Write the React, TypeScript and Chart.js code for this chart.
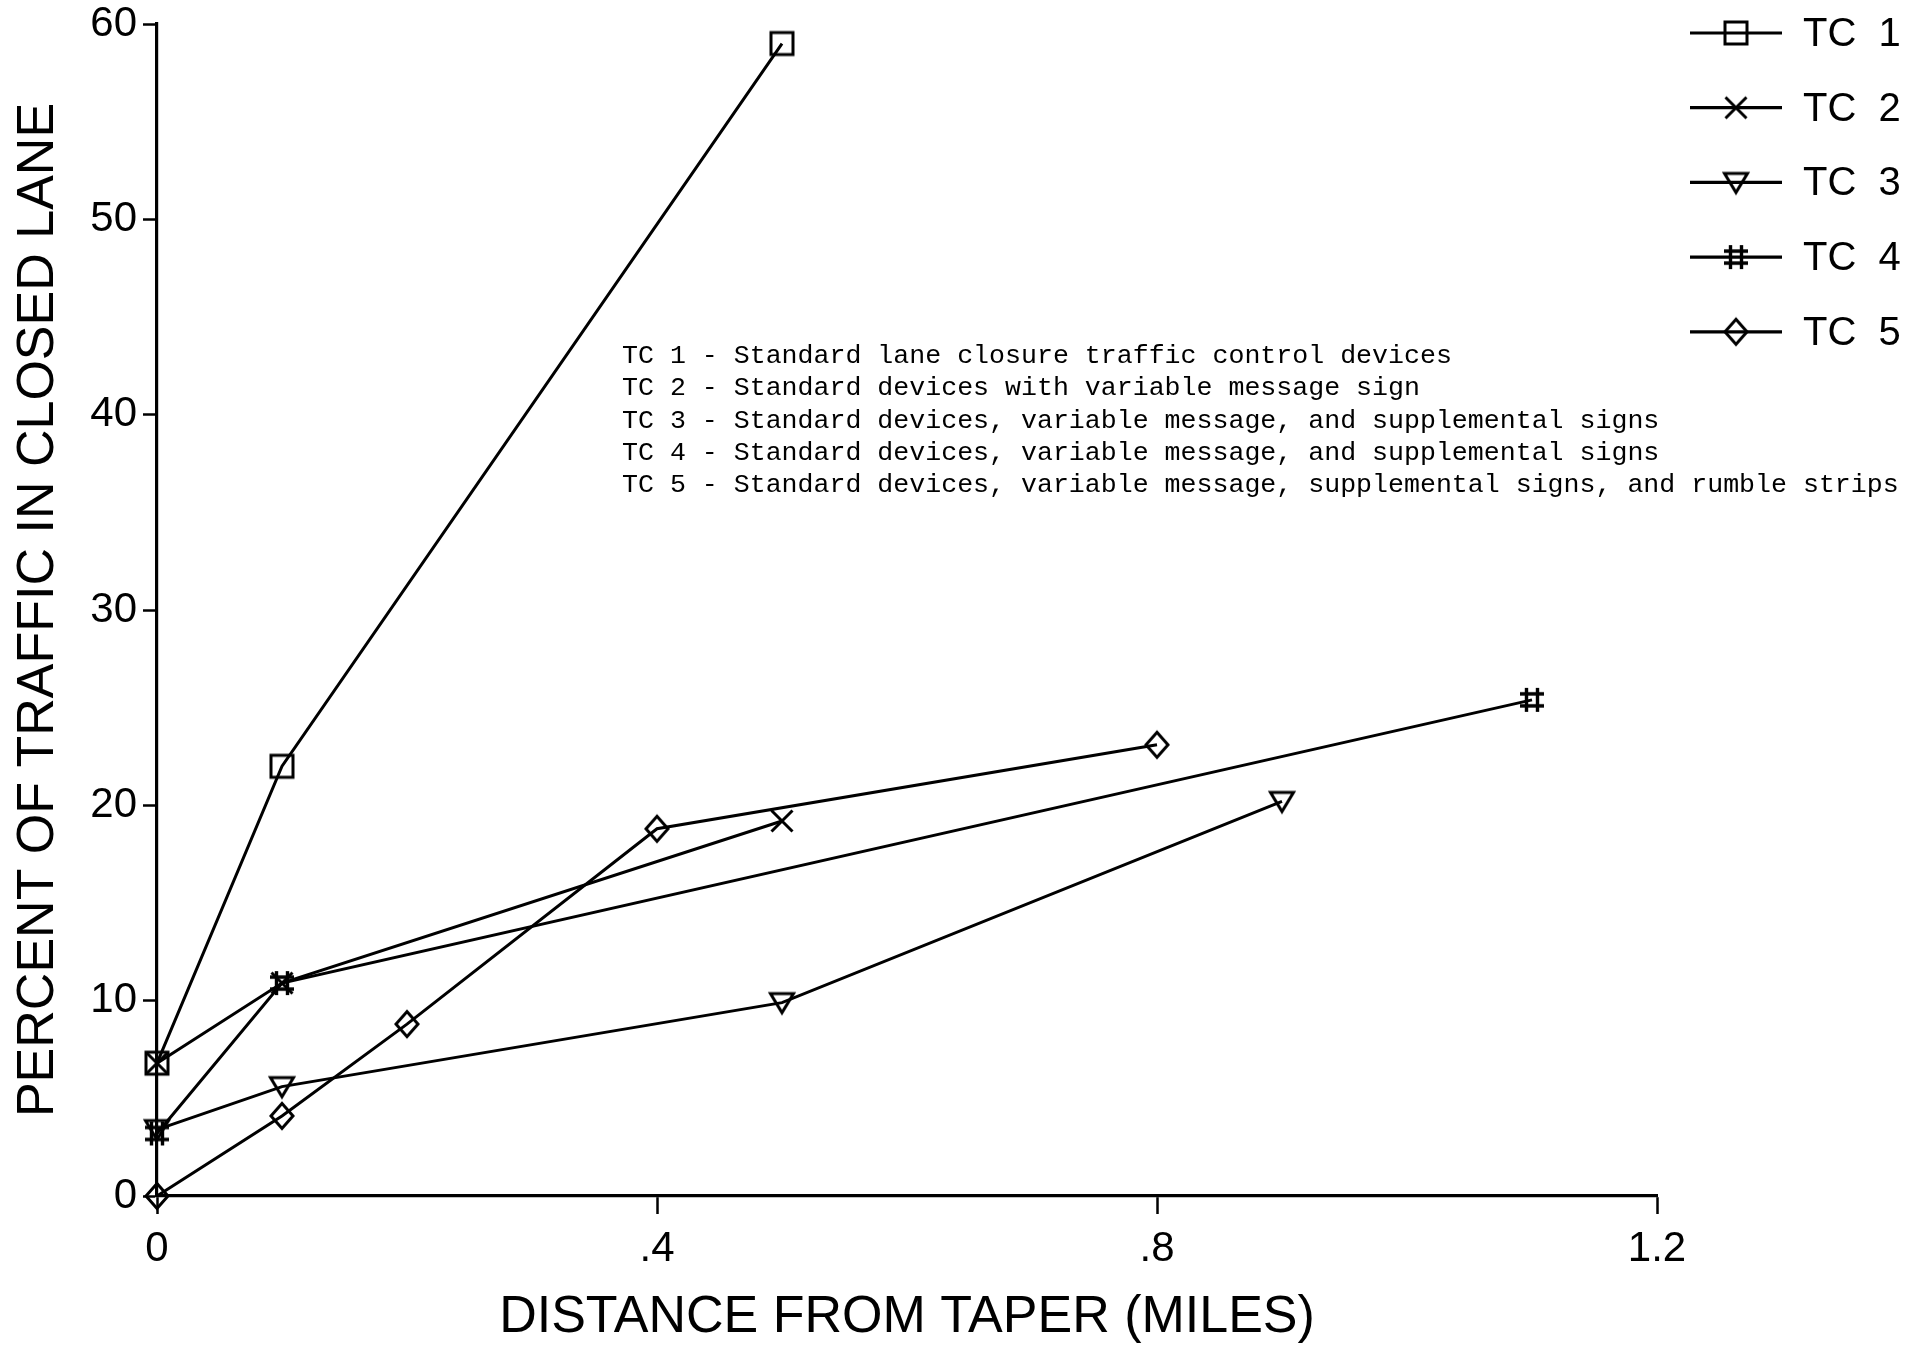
import React, { useEffect, useRef } from 'react';
import { Chart, registerables } from 'chart.js';

Chart.register(...registerables);

// ---- data ----
const seriesLabels = ['TC 1', 'TC 2', 'TC 3', 'TC 4', 'TC 5'];
const tc1X = [0, 0.1, 0.5];
const tc1Y = [6.8, 22.0, 59.0];
const tc2X = [0, 0.1, 0.5];
const tc2Y = [6.8, 10.9, 19.2];
const tc3X = [0, 0.1, 0.5, 0.9];
const tc3Y = [3.4, 5.6, 9.9, 20.2];
const tc4X = [0, 0.1, 1.1];
const tc4Y = [3.2, 10.9, 25.4];
const tc5X = [0, 0.1, 0.2, 0.4, 0.8];
const tc5Y = [0, 4.1, 8.8, 18.8, 23.1];
const markerKinds = ['square', 'x', 'triangleDown', 'hash', 'diamond'];
const xTickLabels = ['0', '.4', '.8', '1.2'];
const yTickLabels = ['0', '10', '20', '30', '40', '50', '60'];
const xTitle = 'DISTANCE FROM TAPER (MILES)';
const yTitle = 'PERCENT OF TRAFFIC IN CLOSED LANE';
const notes = [
  'TC 1 - Standard lane closure traffic control devices',
  'TC 2 - Standard devices with variable message sign',
  'TC 3 - Standard devices, variable message, and supplemental signs',
  'TC 4 - Standard devices, variable message, and supplemental signs',
  'TC 5 - Standard devices, variable message, supplemental signs, and rumble strips',
];

const W = 1913;
const H = 1346;

function makeMarker(kind: string): HTMLCanvasElement {
  const s = 34;
  const c = document.createElement('canvas');
  c.width = s;
  c.height = s;
  const g = c.getContext('2d')!;
  const m = s / 2;
  g.strokeStyle = '#000';
  g.lineWidth = 3;
  g.lineJoin = 'miter';
  g.beginPath();
  if (kind === 'square') {
    g.rect(m - 11, m - 11, 22, 22);
  } else if (kind === 'x') {
    g.moveTo(m - 10.5, m - 10.5);
    g.lineTo(m + 10.5, m + 10.5);
    g.moveTo(m + 10.5, m - 10.5);
    g.lineTo(m - 10.5, m + 10.5);
  } else if (kind === 'triangleDown') {
    g.moveTo(m - 11.5, m - 9);
    g.lineTo(m + 11.5, m - 9);
    g.lineTo(m, m + 10);
    g.closePath();
  } else if (kind === 'hash') {
    g.lineWidth = 3.4;
    g.moveTo(m - 5.5, m - 12);
    g.lineTo(m - 5.5, m + 12);
    g.moveTo(m + 5.5, m - 12);
    g.lineTo(m + 5.5, m + 12);
    g.moveTo(m - 12, m - 6);
    g.lineTo(m + 12, m - 6);
    g.moveTo(m - 12, m + 6);
    g.lineTo(m + 12, m + 6);
  } else if (kind === 'diamond') {
    g.moveTo(m, m - 12.5);
    g.lineTo(m + 11, m);
    g.lineTo(m, m + 12.5);
    g.lineTo(m - 11, m);
    g.closePath();
  }
  g.stroke();
  return c;
}

const overlayPlugin = {
  id: 'overlay',
  afterDraw(chart: any) {
    const ctx = chart.ctx as CanvasRenderingContext2D;
    const area = chart.chartArea;
    ctx.save();
    // notes block
    ctx.fillStyle = '#000';
    ctx.font = '26.6px "Liberation Mono"';
    ctx.textBaseline = 'middle';
    ctx.textAlign = 'left';
    const nx = area.left + 465;
    const ny = 356;
    notes.forEach((t, i) => {
      ctx.fillText(t, nx, ny + i * 32.3);
    });
    // legend
    const lx0 = area.right + 33;
    const lx1 = area.right + 125;
    const lm = area.right + 79;
    const tx = area.right + 146;
    chart.data.datasets.forEach((ds: any, i: number) => {
      const y = 33 + i * 74.7;
      ctx.strokeStyle = '#000';
      ctx.lineWidth = 3.2;
      ctx.beginPath();
      ctx.moveTo(lx0, y);
      ctx.lineTo(lx1, y);
      ctx.stroke();
      const img = ds.pointStyle as HTMLCanvasElement;
      ctx.drawImage(img, lm - img.width / 2, y - img.height / 2);
      ctx.font = '40px "Liberation Sans"';
      ctx.textBaseline = 'middle';
      ctx.fillText(String(ds.label).replace(' ', '  '), tx, y + 2);
    });
    ctx.restore();
  },
};

export default function App() {
  const ref = useRef<HTMLCanvasElement | null>(null);

  useEffect(() => {
    document.body.style.margin = '0';
    document.body.style.overflow = 'hidden';
    const canvas = ref.current;
    if (!canvas) return;

    const xs = [tc1X, tc2X, tc3X, tc4X, tc5X];
    const ys = [tc1Y, tc2Y, tc3Y, tc4Y, tc5Y];
    const datasets = seriesLabels.map((label, i) => ({
      label,
      data: xs[i].map((x, j) => ({ x, y: ys[i][j] })),
      borderColor: '#000',
      backgroundColor: '#000',
      borderWidth: 3,
      pointStyle: makeMarker(markerKinds[i]),
      pointRadius: 12,
      showLine: true,
      tension: 0,
      clip: false as any,
    }));

    const chart = new Chart(canvas, {
      type: 'scatter',
      data: { datasets },
      options: {
        animation: false,
        responsive: false,
        devicePixelRatio: 1,
        layout: { padding: { left: 0, top: 24, right: W - 1657, bottom: 0 } },
        plugins: {
          legend: { display: false },
          tooltip: { enabled: false },
        },
        scales: {
          x: {
            type: 'linear',
            min: 0,
            max: 1.2,
            afterBuildTicks: (scale: any) => {
              scale.ticks = xTickLabels.map((_, i) => ({ value: i * 0.4 }));
            },
            afterFit: (scale: any) => {
              scale.height = H - 1196;
            },
            ticks: {
              color: '#000',
              font: { family: 'Liberation Sans', size: 42 },
              padding: 10,
              maxRotation: 0,
              autoSkip: false,
              callback: (_v: any, idx: number) => xTickLabels[idx],
            },
            grid: {
              drawOnChartArea: false,
              drawTicks: true,
              tickLength: 18,
              tickWidth: 2.5,
              tickColor: '#000',
            },
            border: { display: true, color: '#000', width: 3.2 },
            title: {
              display: true,
              text: xTitle,
              color: '#000',
              font: { family: 'Liberation Sans', size: 52, lineHeight: 1.1 },
              padding: { top: 0, bottom: 0 },
            },
          },
          y: {
            type: 'linear',
            min: 0,
            max: 60,
            afterBuildTicks: (scale: any) => {
              scale.ticks = yTickLabels.map((_, i) => ({ value: i * 10 }));
            },
            afterFit: (scale: any) => {
              scale.width = 157;
              scale.paddingTop = 0;
              scale.paddingBottom = 0;
            },
            ticks: {
              color: '#000',
              font: { family: 'Liberation Sans', size: 42, lineHeight: 1.0 },
              padding: 6,
              autoSkip: false,
              callback: (_v: any, idx: number) => yTickLabels[idx],
            },
            grid: {
              drawOnChartArea: false,
              drawTicks: true,
              tickLength: 14,
              tickWidth: 2.5,
              tickColor: '#000',
            },
            border: { display: true, color: '#000', width: 3.2 },
            title: {
              display: true,
              text: yTitle,
              color: '#000',
              font: { family: 'Liberation Sans', size: 52, lineHeight: 1.2 },
              padding: { top: 7, bottom: 0 },
            },
          },
        },
      },
      plugins: [overlayPlugin],
    });

    return () => {
      chart.destroy();
    };
  }, []);

  return (
    <div style={{ width: W, height: H, background: '#fff' }}>
      <canvas ref={ref} width={W} height={H} style={{ display: 'block', width: W, height: H }} />
    </div>
  );
}
